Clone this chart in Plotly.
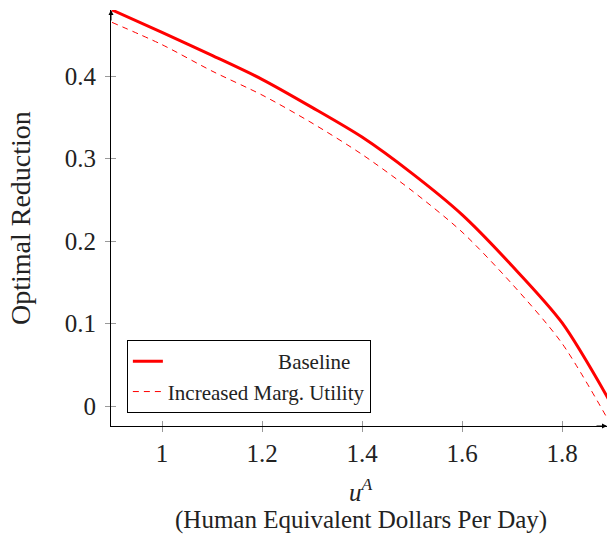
import plotly.graph_objects as go

u_values = [0.9, 1.0, 1.1, 1.2, 1.3, 1.4, 1.5, 1.6, 1.7, 1.8, 1.9]
baseline = [0.480, 0.453, 0.425, 0.396, 0.362, 0.326, 0.282, 0.232, 0.170, 0.101, 0.001]
increased_mu = [0.465, 0.438, 0.406, 0.377, 0.343, 0.305, 0.261, 0.211, 0.148, 0.076, -0.025]
x_ticks = [1.0, 1.2, 1.4, 1.6, 1.8]
x_tick_labels = ["1", "1.2", "1.4", "1.6", "1.8"]
y_ticks = [0.0, 0.1, 0.2, 0.3, 0.4]
y_tick_labels = ["0", "0.1", "0.2", "0.3", "0.4"]

FONT = "Liberation Serif"
XR = [0.898, 1.89]
YR = [-0.0242, 0.48]
NB = "&nbsp;"

fig = go.Figure()
fig.add_trace(go.Scatter(
    x=u_values, y=baseline, mode="lines",
    name=NB * 21 + "Baseline",
    line=dict(color="#ff0000", width=3, shape="spline", smoothing=0.8), legendgroup="a"))
fig.add_trace(go.Scatter(
    x=u_values, y=increased_mu, mode="lines", name="Increased Marg. Utility",
    line=dict(color="#ff0000", width=1, dash="6px,5px", shape="spline", smoothing=0.8),
    legendgroup="b"))

axis_common = dict(showgrid=False, zeroline=False, tickcolor="#999999",
                   ticklen=5, tickwidth=1,
                   tickfont=dict(family=FONT, size=25, color="#222"))

fig.update_layout(
    width=608, height=535,
    margin=dict(l=111, r=1, t=10, b=109),
    paper_bgcolor="white", plot_bgcolor="white",
    showlegend=True,
    xaxis=dict(range=XR, tickvals=x_ticks, ticktext=x_tick_labels, ticks="outside",
               showline=True, linecolor="black", linewidth=1, **axis_common),
    yaxis=dict(range=YR, tickvals=y_ticks, ticktext=y_tick_labels, ticks="outside",
               showline=True, linecolor="black", linewidth=1, ticklabelstandoff=4,
               **axis_common),
    xaxis2=dict(range=XR, overlaying="x", tickvals=x_ticks, ticks="inside",
                showticklabels=False, side="bottom", showgrid=False, zeroline=False,
                tickcolor="#999999", ticklen=5, tickwidth=1),
    yaxis2=dict(range=YR, overlaying="y", tickvals=y_ticks, ticks="inside",
                showticklabels=False, side="left", showgrid=False, zeroline=False,
                tickcolor="#999999", ticklen=5, tickwidth=1),
    legend=dict(x=0.032, y=0.031, xanchor="left", yanchor="bottom",
                bordercolor="black", borderwidth=1, bgcolor="white",
                font=dict(family=FONT, size=21, color="#222"),
                tracegroupgap=0, traceorder="normal"),
)
fig.add_trace(go.Scatter(x=[u_values[0]], y=[baseline[0]], xaxis="x2", yaxis="y2",
                         mode="markers", marker=dict(opacity=0), showlegend=False,
                         hoverinfo="skip"))

# axis arrows
fig.add_annotation(x=1, y=0, xref="paper", yref="paper", ax=-12, ay=0,
                   showarrow=True, arrowhead=2, arrowsize=1, arrowwidth=1,
                   arrowcolor="black", text="")
fig.add_annotation(x=0, y=1, xref="paper", yref="paper", ax=0, ay=12,
                   showarrow=True, arrowhead=2, arrowsize=1, arrowwidth=1,
                   arrowcolor="black", text="")

# axis titles
fig.add_annotation(x=0.505, y=0, xref="paper", yref="paper", yanchor="top",
                   yshift=-46, showarrow=False,
                   text="<i>u</i><sup><i>A</i></sup>",
                   font=dict(family=FONT, size=25, color="#222"))
fig.add_annotation(x=0.505, y=0, xref="paper", yref="paper", yanchor="top",
                   yshift=-78, showarrow=False,
                   text="(Human Equivalent Dollars Per Day)",
                   font=dict(family=FONT, size=25, color="#222"))
fig.add_annotation(x=0, y=0.5, xref="paper", yref="paper", xanchor="center",
                   xshift=-91, showarrow=False, textangle=-90,
                   text="Optimal Reduction",
                   font=dict(family=FONT, size=28, color="#222"))

fig.write_html("out.html")
